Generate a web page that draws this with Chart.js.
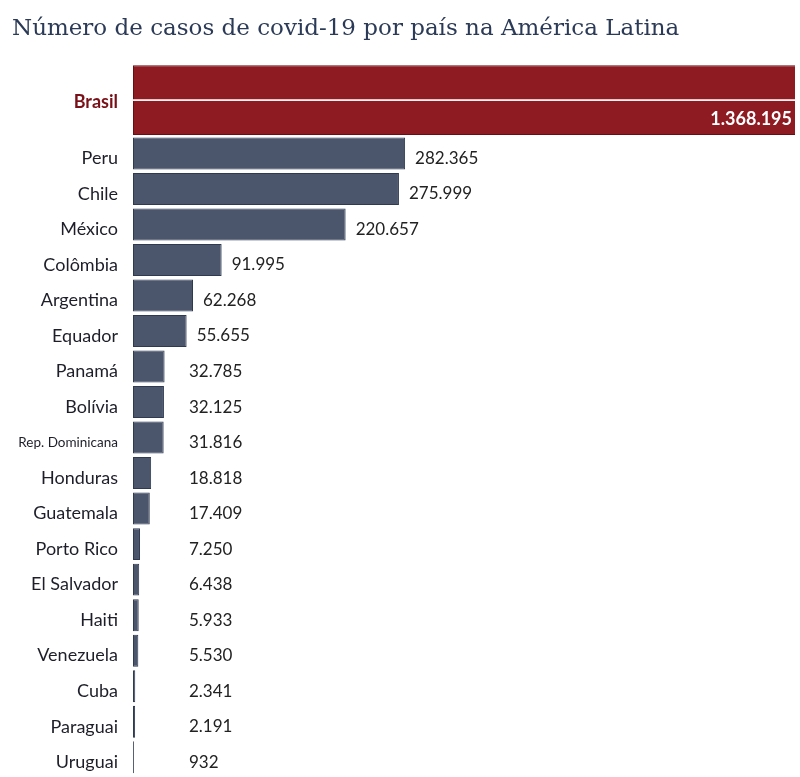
<!DOCTYPE html>
<html>
<head>
<meta charset="utf-8">
<script src="https://cdn.jsdelivr.net/npm/chart.js@4.4.1/dist/chart.umd.min.js"></script>
<style>
  html, body { margin: 0; background: #fff; }
  #wrap { width: 800px; height: 777px; }
</style>
</head>
<body>
<div id="wrap"><canvas id="casesChart"></canvas></div>
<script>
const countries = ['Brasil', 'Peru', 'Chile', 'México', 'Colômbia', 'Argentina', 'Equador', 'Panamá',
  'Bolívia', 'Rep. Dominicana', 'Honduras', 'Guatemala', 'Porto Rico', 'El Salvador', 'Haiti',
  'Venezuela', 'Cuba', 'Paraguai', 'Uruguai'];
const cases = [1368195, 282365, 275999, 220657, 91995, 62268, 55655, 32785, 32125, 31816,
  18818, 17409, 7250, 6438, 5933, 5530, 2341, 2191, 932];
// Brasil is off the scale: its bar is cut at the right edge
const axisMax = 687000;

// Brasil gets two rows, the rest one each
const rows = ['', ''].concat(countries.slice(1));
const brasilData = rows.map((r, i) => i < 2 ? cases[0] : null);
const otherData = rows.map((r, i) => i < 2 ? null : cases[i - 1]);

const fmt = n => String(n).replace(/\B(?=(\d{3})+(?!\d))/g, '.');

const barLabels = {
  id: 'barLabels',
  afterDatasetsDraw(chart) {
    const ctx = chart.ctx;
    const area = chart.chartArea;
    ctx.save();
    ctx.textBaseline = 'middle';

    // Brasil value inside the bar, name on the axis
    const br = chart.getDatasetMeta(0).data;
    ctx.font = 'bold 18px Lato';
    ctx.fillStyle = '#ffffff';
    ctx.textAlign = 'right';
    ctx.fillText(fmt(cases[0]), area.right - 3, br[1].y + 1);
    ctx.fillStyle = '#7a1017';
    ctx.fillText(countries[0], area.left - 15, (br[0].y + br[1].y) / 2 + 2);

    // other values to the right of each bar
    ctx.font = '17px Lato';
    ctx.fillStyle = '#222222';
    ctx.textAlign = 'left';
    chart.getDatasetMeta(1).data.forEach((bar, i) => {
      if (otherData[i] == null) return;
      const x = Math.max(bar.x + 10, area.left + 56);
      ctx.fillText(fmt(otherData[i]), x, bar.y + 5);
    });
    ctx.restore();
  }
};

new Chart(document.getElementById('casesChart'), {
  type: 'bar',
  data: {
    labels: rows,
    datasets: [{
      data: brasilData,
      backgroundColor: '#8e1a22',
      borderColor: '#6a0d12',
      borderWidth: ctx => ctx.dataIndex === 0
        ? { top: 1, left: 1, right: 0, bottom: 0 }
        : { top: 0, left: 1, right: 0, bottom: 1 },
      borderSkipped: false,
      barPercentage: 0.97,
      categoryPercentage: 1,
      grouped: false
    }, {
      data: otherData,
      backgroundColor: '#4b566d',
      borderColor: '#2f3a50',
      borderWidth: 1,
      borderSkipped: false,
      barPercentage: 0.9,
      categoryPercentage: 1,
      grouped: false
    }]
  },
  options: {
    indexAxis: 'y',
    responsive: true,
    maintainAspectRatio: false,
    animation: false,
    layout: { padding: { left: 12, right: 5, bottom: 2 } },
    plugins: {
      legend: { display: false },
      tooltip: { enabled: false },
      title: {
        display: true,
        text: 'Número de casos de covid-19 por país na América Latina',
        align: 'start',
        color: '#2b3a57',
        font: { family: 'DejaVu Serif', size: 23, weight: 'normal' },
        padding: { top: 15, bottom: 22 }
      }
    },
    scales: {
      x: {
        display: false,
        min: 0,
        max: axisMax
      },
      y: {
        grid: { display: false, drawTicks: false },
        border: { display: false },
        afterFit: scale => {
          scale.width = 121;
          scale.paddingTop = 0;
          scale.paddingBottom = 0;
        },
        ticks: {
          padding: 15,
          autoSkip: false,
          labelOffset: 5,
          color: '#1e1e2a',
          font: ctx => rows[ctx.index] === 'Rep. Dominicana'
            ? { family: 'Lato', size: 13.5 }
            : { family: 'Lato', size: 18 }
        }
      }
    }
  },
  plugins: [barLabels]
});
</script>
</body>
</html>
